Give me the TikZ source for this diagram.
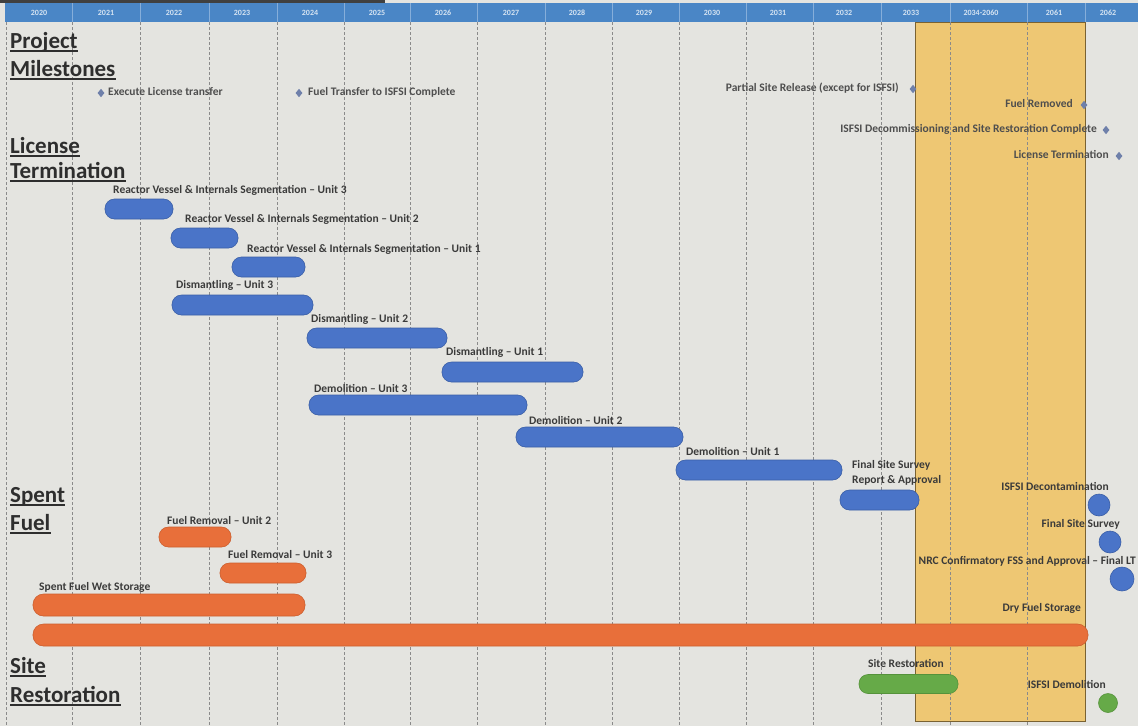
\documentclass[tikz,border=0pt]{standalone}
\usepackage{fontspec}
\setmainfont{Carlito}
\usetikzlibrary{shapes.geometric}
\definecolor{bg}{HTML}{E4E4E0}
\definecolor{yel}{HTML}{EEC773}
\definecolor{yelD}{HTML}{7A6232}
\definecolor{hdr}{HTML}{4A86C6}
\definecolor{hdrtxt}{HTML}{D6E4F2}
\definecolor{hdrsep}{HTML}{86AEDA}
\definecolor{grid}{HTML}{8A8A8A}
\definecolor{txt}{HTML}{3A3A3A}
\definecolor{head}{HTML}{2E2E2E}
\definecolor{barblue}{HTML}{4A74C8}
\definecolor{barblueD}{HTML}{3A5EA6}
\definecolor{barorange}{HTML}{E86F3A}
\definecolor{barorangeD}{HTML}{CC5E2E}
\definecolor{bargreen}{HTML}{66AA48}
\definecolor{bargreenD}{HTML}{55923B}
\definecolor{diam}{HTML}{6F80AA}
\begin{document}
\begin{tikzpicture}[x=1pt,y=-1pt,
  lbl/.style={font=\bfseries\fontsize{11.5}{13}\selectfont, text=txt, inner sep=0pt},
  mlbl/.style={lbl, text=txt!90},
  headtxt/.style={font=\bfseries\fontsize{23}{24}\selectfont, text=head, inner sep=0pt, anchor=base west},
  ul/.style={draw=head, line width=1.4pt},
  yr/.style={font=\bfseries\fontsize{8}{9}\selectfont, text=hdrtxt, inner sep=0pt},
  gridline/.style={draw=grid, line width=0.6pt, dash pattern=on 2.5pt off 2.5pt},
  bar/.style={rectangle, rounded corners=9.5pt, minimum height=20pt, inner sep=0pt, line width=0.6pt},
  bluebar/.style={bar, fill=barblue, draw=barblueD},
  orangebar/.style={bar, fill=barorange, draw=barorangeD},
  greenbar/.style={bar, fill=bargreen, draw=bargreenD},
  dot/.style={circle, inner sep=0pt, line width=0.6pt},
  ms/.style={diamond, fill=diam, inner sep=0pt, minimum width=7pt, minimum height=8.5pt}
]
\useasboundingbox (0,0) rectangle (1138,726);
\fill[bg] (0,0) rectangle (1138,726);
\fill[black!75] (0,0) rectangle (385,2.5);
% yellow period box
\filldraw[fill=yel, draw=yelD, line width=0.8pt] (915,22) rectangle (1085,721);
% grid lines
\foreach \gx in {6,72,140,209,277,344,410,477,545,612,679,746,813,881,950,1027}
  \draw[gridline] (\gx,22) -- (\gx,726);
% header
\fill[hdr] (5,3) rectangle (1138,22);
\foreach \gx in {72,140,209,277,344,410,477,545,612,679,746,813,881,950,1027,1085}
  \draw[hdrsep, line width=0.5pt] (\gx,3) -- (\gx,22);
\node[yr] (y2020) at (39,13) {2020};
\node[yr] (y2021) at (106,13) {2021};
\node[yr] (y2022) at (174,13) {2022};
\node[yr] (y2023) at (242,13) {2023};
\node[yr] (y2024) at (310,13) {2024};
\node[yr] (y2025) at (377,13) {2025};
\node[yr] (y2026) at (443,13) {2026};
\node[yr] (y2027) at (511,13) {2027};
\node[yr] (y2028) at (577,13) {2028};
\node[yr] (y2029) at (644,13) {2029};
\node[yr] (y2030) at (712,13) {2030};
\node[yr] (y2031) at (778,13) {2031};
\node[yr] (y2032) at (844,13) {2032};
\node[yr] (y2033) at (911,13) {2033};
\node[yr] (y2034) at (981,13) {2034-2060};
\node[yr] (y2061) at (1054,13) {2061};
\node[yr] (y2062) at (1108,13) {2062};
% section headings
\node[headtxt] (hProject) at (10,48) {Project};
\node[headtxt] (hMilestones) at (10,76) {Milestones};
\node[headtxt] (hLicense) at (10,153) {License};
\node[headtxt] (hTermination) at (10,178) {Termination};
\node[headtxt] (hSpent) at (10,502) {Spent};
\node[headtxt] (hFuel) at (10,530) {Fuel};
\node[headtxt] (hSite) at (10,673) {Site};
\node[headtxt] (hRestoration) at (10,702) {Restoration};
\foreach \h in {hProject,hMilestones,hLicense,hTermination,hSpent,hFuel,hSite,hRestoration}
  \draw[ul] ([yshift=-3pt]\h.base west) -- ([yshift=-3pt]\h.base east);
% milestones
\node[ms] (m1) at (101,93) {};
\node[mlbl, anchor=mid west] (m1t) at (108,93) {Execute License transfer};
\node[ms] (m2) at (299,93) {};
\node[mlbl, anchor=mid west] (m2t) at (308,93) {Fuel Transfer to ISFSI Complete};
\node[ms] (m3) at (913,89) {};
\node[mlbl, anchor=mid east] (m3t) at (899,89) {Partial Site Release (except for ISFSI)};
\node[ms] (m4) at (1084,105) {};
\node[mlbl, anchor=mid east] (m4t) at (1073,105) {Fuel Removed};
\node[ms] (m5) at (1106,130) {};
\node[mlbl, anchor=mid east] (m5t) at (1097,130) {ISFSI Decommissioning and Site Restoration Complete};
\node[ms] (m6) at (1119,156) {};
\node[mlbl, anchor=mid east] (m6t) at (1109,156) {License Termination};
% license termination bars
\node[lbl, anchor=mid west] (rv3t) at (113,191) {Reactor Vessel \& Internals Segmentation -- Unit 3};
\node[bluebar, minimum width=68pt] (rv3) at (139,209) {};
\node[lbl, anchor=mid west] (rv2t) at (185,220) {Reactor Vessel \& Internals Segmentation -- Unit 2};
\node[bluebar, minimum width=67pt] (rv2) at (204.5,238) {};
\node[lbl, anchor=mid west] (rv1t) at (247,250) {Reactor Vessel \& Internals Segmentation -- Unit 1};
\node[bluebar, minimum width=73pt] (rv1) at (268.5,267) {};
\node[lbl, anchor=mid west] (dis3t) at (176,286) {Dismantling -- Unit 3};
\node[bluebar, minimum width=141pt] (dis3) at (242.5,305) {};
\node[lbl, anchor=mid west] (dis2t) at (311,320) {Dismantling -- Unit 2};
\node[bluebar, minimum width=140pt] (dis2) at (377,338) {};
\node[lbl, anchor=mid west] (dis1t) at (446,353) {Dismantling -- Unit 1};
\node[bluebar, minimum width=141pt] (dis1) at (512.5,372) {};
\node[lbl, anchor=mid west] (dem3t) at (314,390) {Demolition -- Unit 3};
\node[bluebar, minimum width=218pt] (dem3) at (418,405) {};
\node[lbl, anchor=mid west] (dem2t) at (529,422) {Demolition -- Unit 2};
\node[bluebar, minimum width=167pt] (dem2) at (599.5,437) {};
\node[lbl, anchor=mid west] (dem1t) at (686,453) {Demolition -- Unit 1};
\node[bluebar, minimum width=166pt] (dem1) at (759,470) {};
\node[lbl, anchor=mid west] (fsst) at (852,466) {Final Site Survey};
\node[lbl, anchor=mid west] (fsst2) at (852,481) {Report \& Approval};
\node[bluebar, minimum width=79pt] (fss) at (879.5,500) {};
\node[lbl, anchor=mid east] (decont) at (1109,488) {ISFSI Decontamination};
\node[dot, fill=barblue, draw=barblueD, minimum width=22pt, minimum height=20pt] (decon) at (1099,505) {};
\node[lbl, anchor=mid east] (fss2t) at (1120,525) {Final Site Survey};
\node[dot, fill=barblue, draw=barblueD, minimum width=22pt, minimum height=20pt] (fss2) at (1110,542) {};
\node[lbl, anchor=mid east] (nrct) at (1136,562) {NRC Confirmatory FSS and Approval -- Final LT};
\node[dot, fill=barblue, draw=barblueD, minimum width=24pt, minimum height=20pt] (nrc) at (1122,579) {};
% spent fuel bars
\node[lbl, anchor=mid west] (fr2t) at (167,522) {Fuel Removal -- Unit 2};
\node[orangebar, minimum width=72pt] (fr2) at (195,537) {};
\node[lbl, anchor=mid west] (fr3t) at (228,556) {Fuel Removal -- Unit 3};
\node[orangebar, minimum width=86pt] (fr3) at (263,573) {};
\node[lbl, anchor=mid west] (wett) at (39,588) {Spent Fuel Wet Storage};
\node[orangebar, minimum width=272pt, minimum height=22pt, rounded corners=10.5pt] (wet) at (169,605) {};
\node[lbl, anchor=mid east] (dryt) at (1081,609) {Dry Fuel Storage};
\node[orangebar, minimum width=1055pt, minimum height=22pt, rounded corners=10.5pt] (dry) at (560.5,635) {};
% site restoration
\node[lbl, anchor=mid west] (srt) at (868,665) {Site Restoration};
\node[greenbar, minimum width=99pt, minimum height=19pt, rounded corners=9pt] (sr) at (908.5,684) {};
\node[lbl, anchor=mid east] (isdt) at (1106,686) {ISFSI Demolition};
\node[dot, fill=bargreen, draw=bargreenD, minimum size=19pt] (isd) at (1108,703) {};
\end{tikzpicture}
\end{document}
